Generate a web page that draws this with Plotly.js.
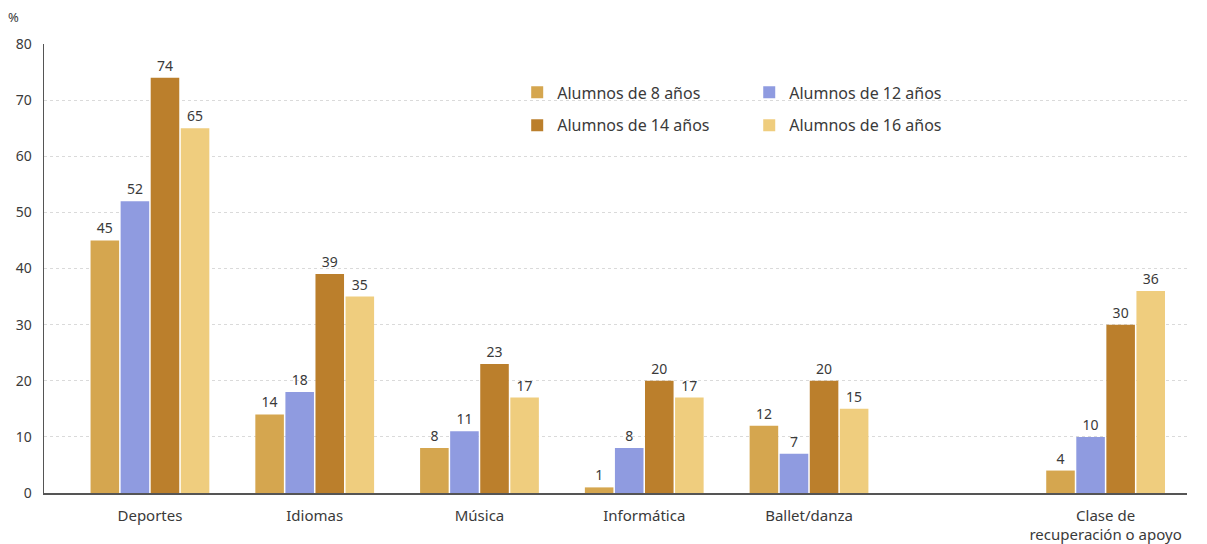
<!DOCTYPE html>
<html>
<head>
<meta charset="utf-8">
<script src="https://cdn.plot.ly/plotly-3.0.1.min.js"></script>
<style>html,body{margin:0;padding:0;background:#fff;}#chart{width:1207px;height:544px;}</style>
</head>
<body>
<div id="chart"></div>
<script>
const categories = ["Deportes", "Idiomas", "Música", "Informática", "Ballet/danza", "Clase de<br>recuperación o apoyo"];
const positions = [0, 1, 2, 3, 4, 5.8];
const seriesNames = ["Alumnos de 8 años", "Alumnos de 12 años", "Alumnos de 14 años", "Alumnos de 16 años"];
const alumnos8 = [45, 14, 8, 1, 12, 4];
const alumnos12 = [52, 18, 11, 8, 7, 10];
const alumnos14 = [74, 39, 23, 20, 20, 30];
const alumnos16 = [65, 35, 17, 17, 15, 36];
const yTicks = [0, 10, 20, 30, 40, 50, 60, 70, 80];

const colors = ["#d5a64f", "#8f9be0", "#bb7f2c", "#efcd7e"];
const legends = ["legend", "legend2", "legend", "legend2"];
const values = [alumnos8, alumnos12, alumnos14, alumnos16];

const font = "'Noto Sans', 'Open Sans', sans-serif";

const traces = values.map((v, i) => ({
  type: "bar",
  name: seriesNames[i],
  x: positions,
  y: v,
  marker: {color: colors[i]},
  text: v.map(String),
  textposition: "outside",
  textfont: {family: font, size: 14, color: "#3a3a3a"},
  cliponaxis: false,
  legend: legends[i],
  legendgroup: "g" + i,
  hoverinfo: "skip"
}));

const legendCommon = {
  orientation: "v",
  bgcolor: "rgba(0,0,0,0)",
  font: {family: font, size: 16, color: "#3a3a3a"},
  tracegroupgap: 9,
  traceorder: "grouped",
  xanchor: "left",
  yanchor: "top",
  y: 0.93
};

const layout = {
  width: 1207,
  height: 544,
  margin: {l: 44, r: 20, t: 44, b: 51},
  paper_bgcolor: "#fff",
  plot_bgcolor: "#fff",
  barmode: "group",
  bargap: 0.27,
  bargroupgap: 0.05,
  showlegend: true,
  legend: Object.assign({}, legendCommon, {x: 0.414}),
  legend2: Object.assign({}, legendCommon, {x: 0.617}),
  xaxis: {
    type: "linear",
    range: [-0.643, 6.294],
    tickmode: "array",
    tickvals: positions,
    ticktext: categories,
    showgrid: false,
    zeroline: false,
    showline: true,
    linecolor: "#555",
    linewidth: 1.5,
    ticks: "",
    ticklabelstandoff: 8,
    tickfont: {family: font, size: 15, color: "#3a3a3a"}
  },
  yaxis: {
    range: [0, 80],
    tickmode: "array",
    tickvals: yTicks,
    showgrid: true,
    gridcolor: "#dadada",
    griddash: "dot",
    gridwidth: 1,
    zeroline: false,
    showline: true,
    linecolor: "#555",
    linewidth: 1.5,
    ticks: "",
    ticklabelstandoff: 8,
    tickfont: {family: font, size: 14, color: "#3a3a3a"}
  },
  annotations: [{
    xref: "paper", yref: "paper",
    x: -0.02, y: 1.035,
    xanchor: "right", yanchor: "bottom",
    text: "%", showarrow: false,
    font: {family: font, size: 13, color: "#3a3a3a"}
  }]
};

Plotly.newPlot("chart", traces, layout, {displayModeBar: false, staticPlot: true});
</script>
</body>
</html>
